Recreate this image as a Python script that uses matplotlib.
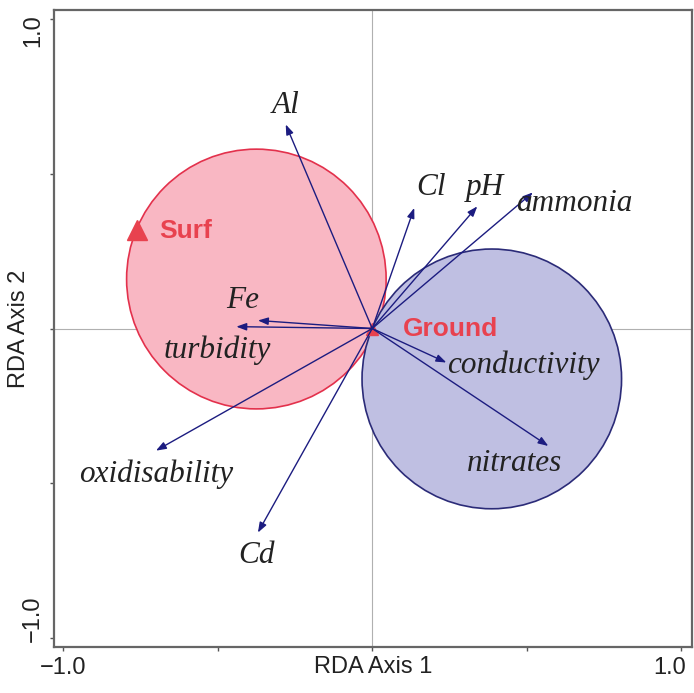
import matplotlib.pyplot as plt
import matplotlib.transforms as mtransforms
from matplotlib.patches import Circle

# Environmental variables (RDA biplot arrows)
variables = ['Al', 'Cl', 'pH', 'ammonia', 'Fe', 'turbidity',
             'conductivity', 'nitrates', 'oxidisability', 'Cd']
axis1 = [-0.28, 0.136, 0.34, 0.52, -0.37, -0.44, 0.24, 0.57, -0.70, -0.37]
axis2 = [0.66, 0.39, 0.395, 0.44, 0.026, 0.006, -0.11, -0.38, -0.395, -0.66]

# Where each variable's name sits
label_x = [-0.28, 0.19, 0.365, 0.655, -0.42, -0.50, 0.49, 0.46, -0.70, -0.375]
label_y = [0.72, 0.455, 0.455, 0.405, 0.09, -0.07, -0.12, -0.435, -0.47, -0.735]

# Sample groups (centroids) and their dispersion circles
groups = ['Surf', 'Ground']
group_x = [-0.76, 0.0]
group_y = [0.32, 0.0]
circle_x = [-0.375, 0.387]
circle_y = [0.16, -0.163]
circle_r = [0.42, 0.42]

fill_colors = ['#f9b7c3', '#bfbfe2']
edge_colors = ['#e3314c', '#2b2b78']
arrow_color = '#1c1c80'
red = '#e8424f'

fig = plt.figure(figsize=(6.94, 6.93), dpi=100)
ax = fig.add_axes([54 / 694, 46 / 693, 638 / 694, 637 / 693])

for cx, cy, r, fc, ec in zip(circle_x, circle_y, circle_r, fill_colors, edge_colors):
    ax.add_patch(Circle((cx, cy), r, facecolor=fc, edgecolor=ec, lw=1.2, zorder=1))

ax.axhline(0, color='#b0b0b0', lw=0.8, zorder=0.5)
ax.axvline(0, color='#b0b0b0', lw=0.8, zorder=0.5)

# group centroids
ax.plot(group_x[:1], group_y[:1], linestyle='none', marker='^', markersize=15,
        color=red, zorder=2)
ax.plot(group_x[1:], group_y[1:], linestyle='none', marker='^', markersize=9,
        color=red, zorder=2)

for x, y in zip(axis1, axis2):
    ax.annotate('', xy=(x, y), xytext=(0, 0),
                arrowprops=dict(arrowstyle='-|>,head_length=0.6,head_width=0.22',
                                color=arrow_color, lw=1.0, shrinkA=0, shrinkB=0),
                zorder=3)

for name, x, y in zip(variables, label_x, label_y):
    ax.text(x, y, name, family='Liberation Serif', style='italic', fontsize=22.5,
            color='#222222', ha='center', va='center', zorder=4)

ax.text(group_x[0] + 0.07, group_y[0] - 0.005, groups[0], family='Liberation Sans',
        fontweight='bold', fontsize=19, color=red, ha='left', va='center', zorder=4)
ax.text(group_x[1] + 0.1, group_y[1], groups[1], family='Liberation Sans',
        fontweight='bold', fontsize=19, color=red, ha='left', va='center', zorder=4)

ax.set_xlim(-1.03, 1.035)
ax.set_ylim(-1.03, 1.03)

ticks = [-1.0, -0.5, 0.0, 0.5, 1.0]
tick_labels = ['\u22121.0', '', '', '', '1.0']
ax.set_xticks(ticks)
ax.set_xticklabels(tick_labels)
ax.set_yticks(ticks)
ax.set_yticklabels(tick_labels, rotation=90, va='center')
ax.tick_params(length=3, width=1, color='#555555', labelsize=17, pad=4)
for lbl in ax.get_xticklabels() + ax.get_yticklabels():
    lbl.set_family('Liberation Sans')
    lbl.set_color('#222222')

# nudge the end labels inward so they stay on the canvas
def nudge(label, dx, dy):
    label.set_transform(label.get_transform() +
                        mtransforms.ScaledTranslation(dx / 72, dy / 72, fig.dpi_scale_trans))

xl = ax.get_xticklabels()
yl = ax.get_yticklabels()
nudge(xl[-1], -8, 0)
nudge(yl[-1], 0, -8)
nudge(yl[0], 0, 14)

for side in ax.spines.values():
    side.set_color('#666666')
    side.set_linewidth(1.6)

ax.set_xlabel('RDA Axis 1', family='Liberation Sans', fontsize=17, color='#222222')
ax.set_ylabel('RDA Axis 2', family='Liberation Sans', fontsize=17, color='#222222')
ax.xaxis.set_label_coords(0.5, -0.014)
ax.yaxis.set_label_coords(-0.038, 0.5)

fig.savefig('out.png', dpi=100)
